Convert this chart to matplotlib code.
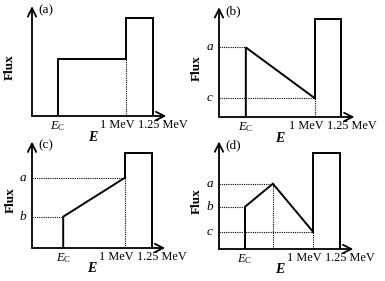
import numpy as np
import matplotlib
matplotlib.use('Agg')
import matplotlib.pyplot as plt

plt.rcParams['font.family'] = ['Liberation Serif', 'DejaVu Serif']
plt.rcParams['mathtext.fontset'] = 'custom'
plt.rcParams['mathtext.rm'] = 'Liberation Serif'
plt.rcParams['mathtext.it'] = 'Liberation Serif:italic'

# schematic values (x: axis origin = 0, 1.25 MeV = 1.0 ; y: gamma peak top = 1.0)
panels = ['(a)', '(b)', '(c)', '(d)']
ec_pos = [0.215, 0.22, 0.26, 0.215]
mev1_pos = [0.777, 0.787, 0.775, 0.777]
mev125_pos = [1.0, 1.0, 1.0, 1.0]
peak_top = [1.0, 1.0, 1.0, 1.0]

# flux curve between Ec and 1 MeV for each panel: (x list, y list), x in fraction of Ec..1MeV
curve_x = [[0.0, 1.0], [0.0, 1.0], [0.0, 1.0], [0.0, 0.41, 1.0]]
curve_y = [[0.58, 0.58], [0.71, 0.19], [0.33, 0.74], [0.44, 0.68, 0.18]]
level_labels = [[], [('a', 0.71), ('c', 0.19)], [('a', 0.74), ('b', 0.33)],
                [('a', 0.68), ('b', 0.44), ('c', 0.18)]]

# pixel origin of each panel and pixels per unit
origins = [(32, 116), (219, 117), (32, 248), (219, 249)]
scales = [(121, 98), (122, 98), (120, 95), (121, 96)]

W, H = 385, 281
fig = plt.figure(figsize=(W / 100, H / 100), dpi=100)

XMAX, YMAX = 1.11, 1.12
for i in range(4):
    ox, oy = origins[i]
    sx, sy = scales[i]
    ax = fig.add_axes([ox / W, (H - oy) / H, sx * XMAX / W, sy * YMAX / H])
    ax.set_xlim(0, XMAX)
    ax.set_ylim(0, YMAX)
    ax.axis('off')

    # axes with arrows
    ap = dict(arrowstyle='->,head_length=0.6,head_width=0.3', lw=1.3, color='k',
              shrinkA=0, shrinkB=0)
    ax.annotate('', xy=(XMAX, 0), xytext=(0, 0), arrowprops=ap, annotation_clip=False)
    ax.annotate('', xy=(0, YMAX), xytext=(0, 0), arrowprops=ap, annotation_clip=False)

    ec, m1, m2 = ec_pos[i], mev1_pos[i], mev125_pos[i]
    xs = [ec + f * (m1 - ec) for f in curve_x[i]]
    ys = curve_y[i]
    lw = 1.4
    # rising edge at Ec, flux curve, peak box
    ax.plot([ec, ec] + xs, [0, ys[0]] + ys, color='k', lw=lw, solid_joinstyle='miter')
    ax.plot([m1, m1, m2, m2], [ys[-1], peak_top[i], peak_top[i], 0], color='k', lw=lw,
            solid_joinstyle='miter')
    # dotted guides
    ax.plot([m1, m1], [0, ys[-1]], color='k', lw=0.8, ls=(0, (1, 1)))
    for lab, lev in level_labels[i]:
        j = int(np.argmin([abs(y - lev) for y in ys]))
        ax.plot([0, xs[j]], [lev, lev], color='k', lw=0.8, ls=(0, (1, 1)))
        ax.text(-0.05, lev, lab, ha='right', va='center', fontsize=9.5, style='italic')
    if len(xs) == 3:
        ax.plot([xs[1], xs[1]], [0, ys[1]], color='k', lw=0.8, ls=(0, (1, 1)))

    # labels
    ax.text(0.05, 1.08, panels[i], ha='left', va='center', fontsize=9.5)
    ax.text(-0.18, 0.5, 'Flux', rotation=90, ha='center', va='center', fontsize=9.5,
            fontweight='bold')
    ax.text(ec, -0.03, r'$E_{\rm C}$', ha='center', va='top', fontsize=9)
    ax.text(m1 + 0.07, -0.03, '1 MeV', ha='right', va='top', fontsize=8.8)
    ax.text(m1 + 0.1, -0.03, '1.25 MeV', ha='left', va='top', fontsize=8.8)
    ax.text(0.5, -0.15, 'E', ha='center', va='top', fontsize=10, fontweight='bold',
            style='italic')

fig.savefig('out.png', dpi=100)
